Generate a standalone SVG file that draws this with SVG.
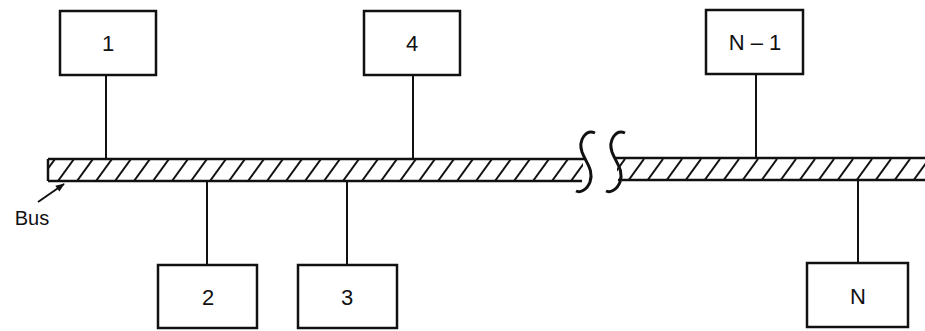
<svg xmlns="http://www.w3.org/2000/svg" width="925" height="331" viewBox="0 0 925 331">
<style>
.box{fill:#fff;stroke:#111;stroke-width:2.5}
.ln{stroke:#111;stroke-width:2;fill:none}
.edge{stroke:#111;stroke-width:2.5;fill:none}
.s{stroke:#111;stroke-width:3;fill:none}
.t{font-family:"Liberation Sans",Arial,sans-serif;font-size:22px;fill:#111;text-anchor:middle}
</style>
<defs>
<pattern id="hatch" patternUnits="userSpaceOnUse" x="0" y="159" width="19" height="22">
<line x1="1" y1="22" x2="17" y2="0" stroke="#111" stroke-width="2"/>
</pattern>
<marker id="ah" viewBox="0 0 10 10" refX="9" refY="5" markerWidth="10" markerHeight="9" orient="auto" markerUnits="userSpaceOnUse">
<path d="M0,1 L10,5 L0,9 z" fill="#111"/>
</marker>
</defs>
<g id="connectors">
<line class="ln" x1="106" y1="75" x2="106" y2="159"/>
<line class="ln" x1="413" y1="75" x2="413" y2="159"/>
<line class="ln" x1="756" y1="74" x2="756" y2="158"/>
<line class="ln" x1="207" y1="181" x2="207" y2="265"/>
<line class="ln" x1="347" y1="181" x2="347" y2="265"/>
<line class="ln" x1="858" y1="180" x2="858" y2="263"/>
</g>
<g id="bus">
<rect x="48" y="159" width="535" height="22" fill="url(#hatch)"/>
<rect x="617" y="158" width="308" height="22" fill="url(#hatch)"/>
<path class="edge" d="M48,159 H586 M48,181 H582 M48,159 V181"/>
<path class="edge" d="M614,158 H925 M618,180 H925"/>
<path class="s" d="M595,133 C586,129 578,140 582,152 C586,163 594,170 590,182 C587,190 580,193 576,191"/>
<path class="s" d="M625,133 C616,129 608,140 612,152 C616,163 624,170 620,182 C617,190 610,193 606,191"/>
</g>
<g id="bus-label">
<line class="ln" x1="38" y1="202" x2="64" y2="184" marker-end="url(#ah)"/>
<text class="t" x="32" y="225" style="font-size:20px">Bus</text>
</g>
<g id="node-1"><rect class="box" x="60" y="11" width="96" height="64"/><text class="t" x="108" y="51">1</text></g>
<g id="node-4"><rect class="box" x="364" y="11" width="96" height="64"/><text class="t" x="412" y="51">4</text></g>
<g id="node-n1"><rect class="box" x="706" y="10" width="97" height="64"/><text class="t" x="755" y="50">N – 1</text></g>
<g id="node-2"><rect class="box" x="158" y="265" width="99" height="63"/><text class="t" x="208" y="305">2</text></g>
<g id="node-3"><rect class="box" x="298" y="265" width="99" height="63"/><text class="t" x="347" y="305">3</text></g>
<g id="node-n"><rect class="box" x="807" y="263" width="101" height="64"/><text class="t" x="858" y="304">N</text></g>
</svg>
